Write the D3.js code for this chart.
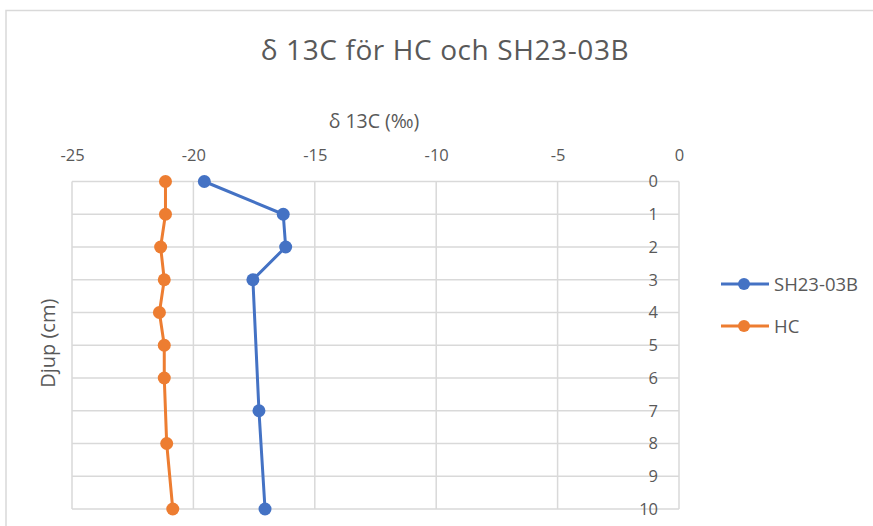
<!DOCTYPE html>
<html>
<head>
<meta charset="utf-8">
<script src="https://cdn.jsdelivr.net/npm/d3@7"></script>
<style>
  html, body { margin: 0; padding: 0; background: #fff; }
  #chart { width: 873px; height: 526px; }
</style>
</head>
<body>
<div id="chart"></div>
<script>
// δ13C profiles — depth on the vertical axis, value on the top axis
const SERIES_NAMES = ["SH23-03B", "HC"];
const SH_DEPTH = [0, 1, 2, 3, 7, 10];
const SH_VALUES = [-19.55, -16.3, -16.2, -17.55, -17.3, -17.05];
const HC_DEPTH = [0, 1, 2, 3, 4, 5, 6, 8, 10];
const HC_VALUES = [-21.15, -21.15, -21.35, -21.2, -21.4, -21.2, -21.2, -21.1, -20.85];
const X_TICKS = [-25, -20, -15, -10, -5, 0];
const Y_TICKS = [0, 1, 2, 3, 4, 5, 6, 7, 8, 9, 10];
const COLORS = ["#4472C4", "#ED7D31"];

const W = 873, H = 526;
const margin = { top: 181.5, right: 194, bottom: 17, left: 72 };
const w = W - margin.left - margin.right;
const h = H - margin.top - margin.bottom;
const font = "'Open Sans', 'Noto Sans', sans-serif";
const textCol = "#595959";

const svg = d3.select("#chart").append("svg")
  .attr("width", W).attr("height", H)
  .style("font-family", font);

// chart frame
svg.append("rect").attr("x", 6).attr("y", 10.5).attr("width", W + 10).attr("height", H + 10)
  .attr("fill", "#fff").attr("stroke", "#d9d9d9").attr("stroke-width", 1.5);

svg.append("text").attr("x", 445).attr("y", 60).attr("text-anchor", "middle")
  .style("font-size", "28px").style("fill", textCol).style("letter-spacing", "0.6px")
  .text("δ 13C för HC och SH23-03B");

const g = svg.append("g").attr("transform", `translate(${margin.left},${margin.top})`);

const x = d3.scaleLinear().domain([-25, 0]).range([0, w]);
const y = d3.scaleLinear().domain([0, 10]).range([0, h]);

// gridlines
g.append("g").selectAll("line").data(X_TICKS).enter().append("line")
  .attr("x1", d => x(d)).attr("x2", d => x(d)).attr("y1", 0).attr("y2", h)
  .attr("stroke", "#d9d9d9").attr("stroke-width", 1.5);
g.append("g").selectAll("line").data(Y_TICKS).enter().append("line")
  .attr("x1", 0).attr("x2", w).attr("y1", d => y(d)).attr("y2", d => y(d))
  .attr("stroke", "#d9d9d9").attr("stroke-width", 1.5);

// top axis labels
const xAxis = g.append("g").attr("transform", "translate(0,-18)")
  .call(d3.axisTop(x).tickValues(X_TICKS).tickSize(0).tickFormat(d3.format("d")));
xAxis.select(".domain").remove();
xAxis.selectAll("text").style("font-size", "16.5px").style("fill", textCol)
  .style("font-family", font).text(d => d === 0 ? "0" : "-" + Math.abs(d));

// right-side depth labels (inside, on the gridlines)
const yAxis = g.append("g").attr("transform", `translate(${w - 21},0)`)
  .call(d3.axisLeft(y).tickValues(Y_TICKS).tickSize(0).tickPadding(0));
yAxis.select(".domain").remove();
yAxis.selectAll("text").style("font-size", "16.5px").style("fill", textCol)
  .style("font-family", font);

svg.append("text").attr("x", 374).attr("y", 128).attr("text-anchor", "middle")
  .style("font-size", "19.5px").style("fill", textCol).text("δ 13C (‰)");

svg.append("text").attr("transform", `translate(55,${margin.top + h / 2 - 2}) rotate(-90)`)
  .attr("text-anchor", "middle")
  .style("font-size", "20px").style("fill", textCol).text("Djup (cm)");

// series
const series = [
  { name: SERIES_NAMES[0], depth: SH_DEPTH, values: SH_VALUES, color: COLORS[0] },
  { name: SERIES_NAMES[1], depth: HC_DEPTH, values: HC_VALUES, color: COLORS[1] }
];
const line = d3.line().x(d => x(d[1])).y(d => y(d[0]));

series.slice().reverse().forEach(s => {
  const pts = s.depth.map((d, i) => [d, s.values[i]]);
  g.append("path").datum(pts).attr("d", line)
    .attr("fill", "none").attr("stroke", s.color).attr("stroke-width", 3)
    .attr("stroke-linejoin", "round");
  g.append("g").selectAll("circle").data(pts).enter().append("circle")
    .attr("cx", d => x(d[1])).attr("cy", d => y(d[0])).attr("r", 6.5)
    .attr("fill", s.color);
});

// legend
const legend = svg.append("g").attr("transform", "translate(721,284)");
series.forEach((s, i) => {
  const row = legend.append("g").attr("transform", `translate(0,${i * 42})`);
  row.append("line").attr("x1", 0).attr("x2", 48).attr("stroke", s.color).attr("stroke-width", 3);
  row.append("circle").attr("cx", 23).attr("r", 6).attr("fill", s.color);
  row.append("text").attr("x", 53).attr("y", 7).style("font-size", "18.5px")
    .style("fill", textCol).text(s.name);
});
</script>
</body>
</html>
